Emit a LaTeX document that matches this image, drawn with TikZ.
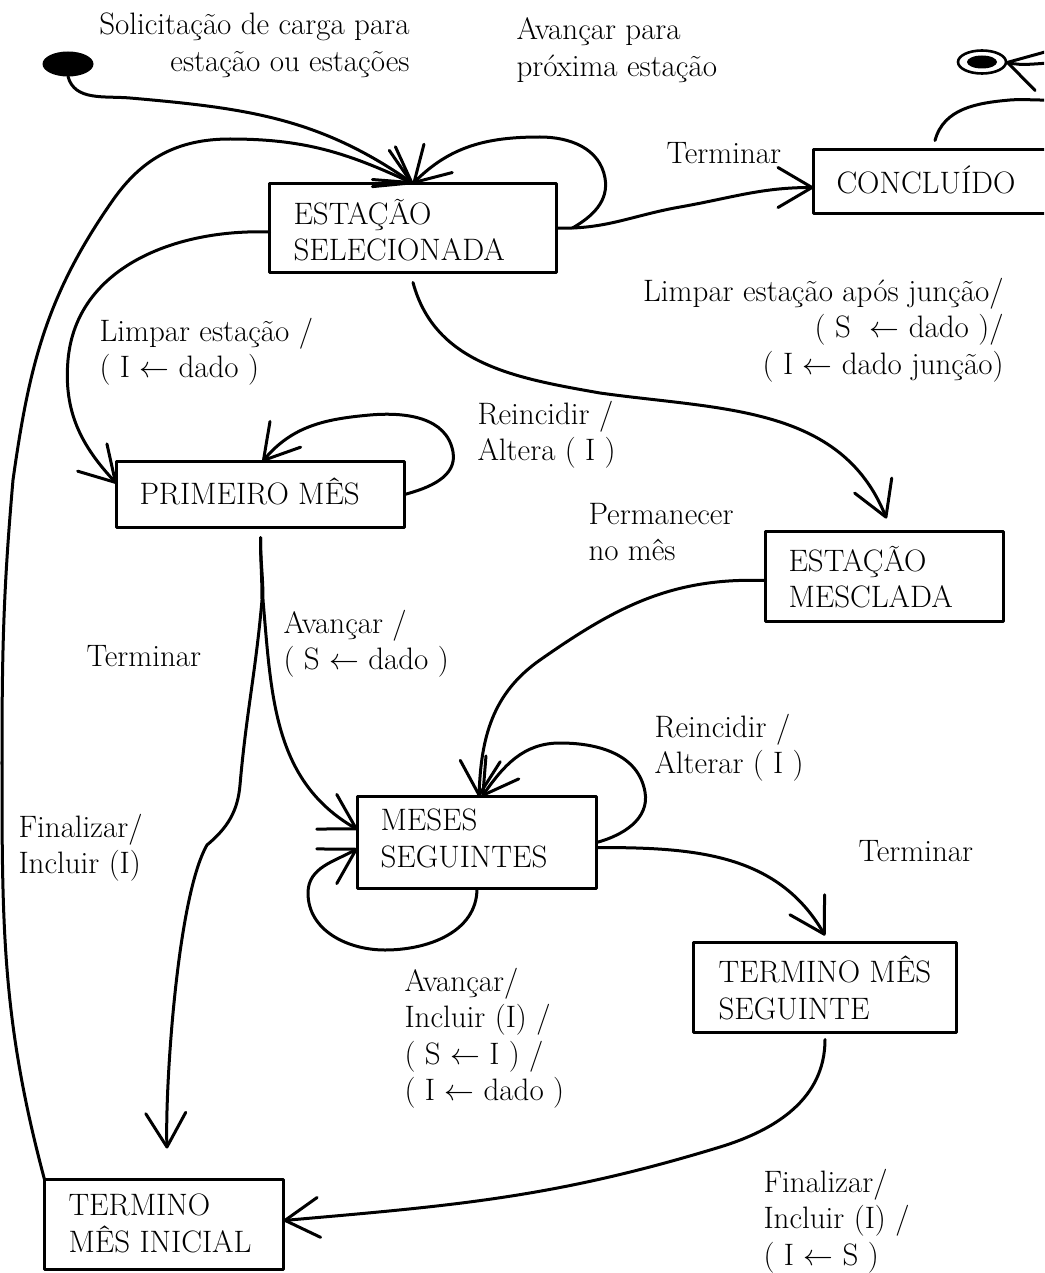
\documentclass[tikz,border=0pt]{standalone}
\usepackage{fontspec}
\usepackage{graphicx}
\usetikzlibrary{arrows.meta,shapes.geometric}
% assignment arrow used in the transition actions
\newcommand\assignarrow{\scalebox{1.2}{$\leftarrow$}}

\begin{document}
\begin{tikzpicture}[x=1pt,y=-1pt,
  line width=3pt, line cap=round, line join=round,
  state/.style={draw, rectangle, inner sep=0pt, outer sep=0pt, line width=3pt},
  lbl/.style={inner sep=0pt, align=left, anchor=north west, yshift=25.55pt,
    font=\fontsize{31}{36.5}\selectfont, execute at begin node=\strut},
  lblr/.style={lbl, align=right, anchor=north east},
  flow/.style={-{Straight Barb[length=34pt,width=40pt,round]}}
]
\useasboundingbox (0,0) rectangle (1044,1273);
\clip (0,0) rectangle (1044,1273);

% ---------- states ----------
\node[state, minimum width=287pt, minimum height=89pt] (es)   at (413,228)    {};
\node[state, minimum width=237pt, minimum height=64pt] (conc) at (932,181.5)  {};
\node[state, minimum width=288pt, minimum height=66pt] (pm)   at (260.5,494.5){};
\node[state, minimum width=238pt, minimum height=90pt] (em)   at (884.5,576.5){};
\node[state, minimum width=239pt, minimum height=92pt] (ms)   at (477,842.5)  {};
\node[state, minimum width=263pt, minimum height=90pt] (tms)  at (825,987.5)  {};
\node[state, minimum width=239pt, minimum height=90pt] (tmi)  at (164,1224.5) {};

% initial and final pseudo-states
\node[ellipse, fill, minimum width=51pt, minimum height=25pt, inner sep=0pt, outer sep=0pt] (start) at (68,64) {};
\node[ellipse, draw, line width=2.6pt, minimum width=48pt, minimum height=23pt, inner sep=0pt, outer sep=0pt] (stop) at (982,62) {};
\fill (stop.center) ellipse [x radius=15pt, y radius=6.5pt];

% ---------- state names ----------
\node[lbl] (es-t)   at (292,223)  {ESTAÇÃO\\SELECIONADA};
\node[lbl] (conc-t) at (835,190)  {CONCLUÍDO};
\node[lbl] (pm-t)   at (138,502)  {PRIMEIRO MÊS};
\node[lbl] (em-t)   at (787,570)  {ESTAÇÃO\\MESCLADA};
\node[lbl] (ms-t)   at (379,833)  {MESES\\SEGUINTES};
\node[lbl] (tms-t)  at (717,980)  {TERMINO MÊS\\SEGUINTE};
\node[lbl] (tmi-t)  at (67,1218)  {TERMINO\\MÊS INICIAL};

% ---------- transitions ----------
% initial transition
\draw[flow] (start.south) to[out=-75,in=175] (130,98) to[out=-5,in=145] (es.north);

% TERMINO MES INICIAL back to the station selection, along the left margin
\draw[flow] (tmi.north west) to[out=105,in=-90] (2,760)
  to[out=90,in=-95] (13,480) to[out=82,in=-125] (113,200)
  to[out=55,in=180] (230,139) to[out=0,in=155] (es.north);

% self loop on ESTACAO SELECIONADA
\draw[flow] ([xshift=16pt]es.east) to[out=30,in=-80] (605,178)
  to[out=100,in=0] (540,137) to[out=180,in=45] (es.north);

% to CONCLUIDO
\draw[flow] (es.east) to[out=-2,in=190] (680,207) to[out=10,in=180] ([yshift=-6pt]conc.west);

% to PRIMEIRO MES
\draw[flow] ([yshift=-4pt]es.west) to[out=178,in=85] (68,360) to[out=-95,in=133] ([yshift=11pt]pm.west);

% self loop on PRIMEIRO MES
\draw[flow] (pm.east) to[out=15,in=-80] (453,452) to[out=100,in=5] (370,415)
  to[out=185,in=50] ([xshift=2pt]pm.north);

% to ESTACAO MESCLADA
\draw[flow] ([yshift=-10pt]es.south) to[out=-75,in=170] (600,393)
  to[out=-8,in=112] ([xshift=2pt,yshift=13pt]em.north);

% PRIMEIRO MES to TERMINO MES INICIAL
\draw[flow] ([yshift=-10pt]pm.south) to[out=-90,in=90] (262,600)
  to[out=-95,in=85] (240,785) to[out=-95,in=40] (207,845)
  to[out=-120,in=92,looseness=0.5] ([xshift=3pt,yshift=31pt]tmi.north);

% PRIMEIRO MES to MESES SEGUINTES
\draw[flow] ([yshift=-10pt]pm.south) to[out=-90,in=90] (263,600)
  to[out=-85,in=150] ([yshift=13pt]ms.west);

% lower self loop on MESES SEGUINTES
\draw[flow] (ms.south) to[out=-90,in=0] (385,950) to[out=180,in=-90] (308,893)
  to[out=90,in=-150] ([yshift=-6pt]ms.west);

% ESTACAO MESCLADA to MESES SEGUINTES
\draw[flow] ([yshift=-4pt]em.west) to[out=178,in=35] (540,660)
  to[out=-145,in=88] ([xshift=2pt]ms.north);

% upper self loop on MESES SEGUINTES
\draw[flow] (ms.east) to[out=15,in=-80] (645,792) to[out=100,in=0] (560,743)
  to[out=180,in=55] ([xshift=5pt]ms.north);

% MESES SEGUINTES to TERMINO MES SEGUINTE
\draw[flow] ([yshift=-5pt]ms.east) to[out=0,in=120] ([yshift=7pt]tms.north);

% TERMINO MES SEGUINTE to TERMINO MES INICIAL
\draw[flow] ([yshift=-7pt]tms.south) to[out=-90,in=17] (720,1147)
  to[out=-163,in=5] ([yshift=4pt]tmi.east);

% CONCLUIDO to the final state
\draw[flow] ([xshift=3pt,yshift=9pt]conc.north) to[out=75,in=185] (1010,100)
  to[out=5,in=-90] (1080,80) to[out=90,in=-15] (stop.east);

% ---------- transition labels ----------
\node[lblr] (l-init)  at (411,37)   {Solicitação de carga para\\estação ou estações};
\node[lbl]  (l-next)  at (515,42)   {Avançar para\\próxima estação};
\node[lbl]  (l-end)   at (665,162)  {Terminar};
\node[lblr] (l-merge) at (1005,302) {Limpar estação após junção/\\( S~ \assignarrow{} dado )/\\( I \assignarrow{} dado junção)};
\node[lbl]  (l-clear) at (98,342)   {Limpar estação /\\( I \assignarrow{} dado )};
\node[lbl]  (l-pmre)  at (476,425)  {Reincidir /\\Altera ( I )};
\node[lbl]  (l-stay)  at (587,527)  {Permanecer\\no mês};
\node[lbl]  (l-pmav)  at (282,634)  {Avançar /\\( S \assignarrow{} dado )};
\node[lbl]  (l-pmend) at (85,665)   {Terminar};
\node[lbl]  (l-msre)  at (653,738)  {Reincidir /\\Alterar ( I )};
\node[lbl]  (l-fin1)  at (17,838)   {Finalizar/\\Incluir (I)};
\node[lbl]  (l-msend) at (857,860)  {Terminar};
\node[lbl]  (l-msav)  at (403,992)  {Avançar/\\Incluir (I) /\\( S \assignarrow{} I ) /\\( I \assignarrow{} dado )};
\node[lbl]  (l-fin2)  at (762,1193) {Finalizar/\\Incluir (I) /\\( I \assignarrow{} S )};

\end{tikzpicture}
\end{document}
